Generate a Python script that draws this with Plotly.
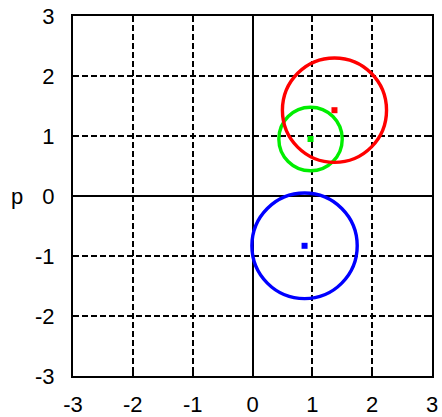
import plotly.graph_objects as go

# Data: circle centres and radii
names = ["red", "green", "blue"]
colors = ["#ff0000", "#00ee00", "#0000ff"]
cx = [1.37, 0.97, 0.87]
cy = [1.43, 0.95, -0.83]
radius = [0.87, 0.53, 0.88]
ticks = [-3, -2, -1, 0, 1, 2, 3]
tick_labels = ["-3", "-2", "-1", "0", "1", "2", "3"]

fig = go.Figure()

# draw order: green first, then red on top, then blue
order = [1, 0, 2]
shapes = []
for i in order:
    shapes.append(dict(type="circle", xref="x", yref="y",
                       x0=cx[i] - radius[i], x1=cx[i] + radius[i],
                       y0=cy[i] - radius[i], y1=cy[i] + radius[i],
                       line=dict(color=colors[i], width=3.4), layer="above"))
for i in order:
    fig.add_trace(go.Scatter(x=[cx[i]], y=[cy[i]], mode="markers",
                             marker=dict(symbol="square", size=6, color=colors[i]),
                             showlegend=False, hoverinfo="skip"))

font = dict(family="Liberation Sans, Arial, sans-serif", size=22, color="black")
axis_common = dict(range=[-3, 3], tickvals=ticks, ticktext=tick_labels,
                   showgrid=True, gridcolor="black", gridwidth=1.5, griddash="6px,3px",
                   zeroline=True, zerolinecolor="black", zerolinewidth=2,
                   showline=True, linecolor="black", linewidth=2, mirror="ticks",
                   ticks="inside", ticklen=5, tickwidth=1.5, tickcolor="black",
                   tickfont=font, fixedrange=True, automargin=False)

fig.update_layout(
    width=442, height=417,
    margin=dict(l=73, r=10, t=16, b=41),
    paper_bgcolor="white", plot_bgcolor="white",
    shapes=shapes,
    xaxis=dict(**axis_common, ticklabelstandoff=8),
    yaxis=dict(**axis_common, ticklabelstandoff=12),
    annotations=[dict(text="p", x=-0.155, y=0.5, xref="paper", yref="paper",
                      showarrow=False, font=font, xanchor="center", yanchor="middle")],
)

fig.write_html("out.html", config={"displayModeBar": False},
               post_script="document.body.style.margin='0';document.body.style.overflow='hidden';")
